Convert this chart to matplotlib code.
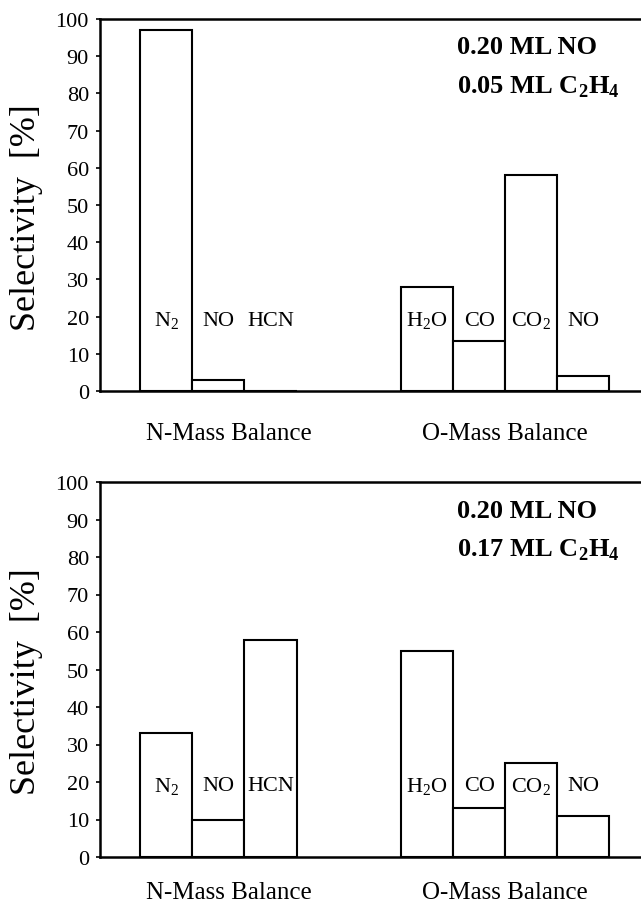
import matplotlib
matplotlib.use("Agg")
import matplotlib.pyplot as plt

plt.rcParams['font.family'] = ['Liberation Serif', 'DejaVu Serif']
plt.rcParams['mathtext.fontset'] = 'custom'
plt.rcParams['mathtext.rm'] = 'Liberation Serif'
plt.rcParams['mathtext.bf'] = 'Liberation Serif:bold'

# categories and positions (index slots)
bar_labels = [r'N$_2$', 'NO', 'HCN', r'H$_2$O', 'CO', r'CO$_2$', 'NO']
bar_slots = [0, 1, 2, 5, 6, 7, 8]
group_labels = ['N-Mass Balance', 'O-Mass Balance']
group_slots = [1.2, 6.5]

# selectivity values [%]
top_values = [97, 3, 0, 28, 13.5, 58, 4]
bottom_values = [33, 10, 58, 55, 13, 25, 11]

top_note = ['0.20 ML NO', r'0.05 ML C$_\mathbf{2}$H$_\mathbf{4}$']
bottom_note = ['0.20 ML NO', r'0.17 ML C$_\mathbf{2}$H$_\mathbf{4}$']

yticks = list(range(0, 101, 10))

fig = plt.figure(figsize=(6.41, 9.03), dpi=100)
W, H = 641, 903

def make_axes(top_px, bottom_px):
    left = 100 / W
    return fig.add_axes([left, 1 - bottom_px / H, 1.0 - left + 0.002, (bottom_px - top_px) / H])

def draw(ax, values, note, label_y, xpad):
    ax.bar(bar_slots, values, width=1.0, color='white', edgecolor='black', linewidth=1.5, zorder=2)
    ax.set_xlim(-1.27, 9.13)
    ax.set_ylim(0, 100)
    ax.set_yticks(yticks)
    ax.tick_params(axis='y', direction='out', length=3, width=1.2, labelsize=16, pad=5)
    ax.set_xticks(group_slots)
    ax.set_xticklabels(group_labels, fontsize=18)
    ax.tick_params(axis='x', length=0, pad=xpad)
    ax.spines['right'].set_visible(False)
    for s in ['left', 'bottom', 'top']:
        ax.spines[s].set_linewidth(1.8)
    ax.set_ylabel('Selectivity  [%]', fontsize=26)
    ax.yaxis.set_label_coords(-0.106, 0.47)
    for x, lab in zip(bar_slots, bar_labels):
        ax.text(x, label_y, lab, ha='center', va='center', fontsize=16, zorder=3)
    ax.text(0.658, 0.925, note[0], transform=ax.transAxes, ha='left', va='center',
            fontsize=19, fontweight='bold')
    ax.text(0.658, 0.82, note[1], transform=ax.transAxes, ha='left', va='center',
            fontsize=19, fontweight='bold')

ax1 = make_axes(20, 392)
draw(ax1, top_values, top_note, 19, 22)
ax2 = make_axes(483, 858)
draw(ax2, bottom_values, bottom_note, 19, 17)

fig.savefig('out.png', dpi=100)
